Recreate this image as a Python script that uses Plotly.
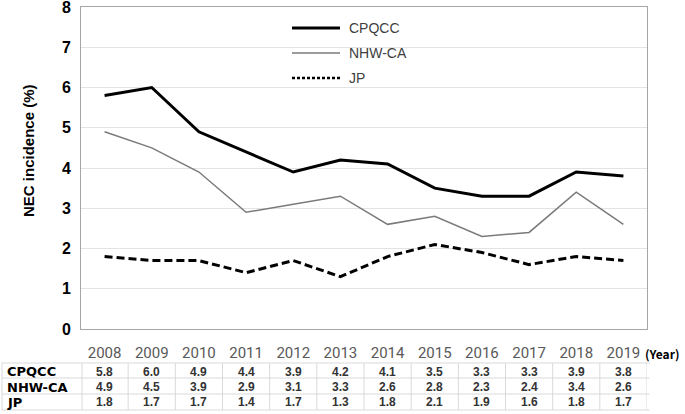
import plotly.graph_objects as go

years = ["2008", "2009", "2010", "2011", "2012", "2013", "2014", "2015", "2016", "2017", "2018", "2019"]
cpqcc = [5.8, 6.0, 4.9, 4.4, 3.9, 4.2, 4.1, 3.5, 3.3, 3.3, 3.9, 3.8]
nhw_ca = [4.9, 4.5, 3.9, 2.9, 3.1, 3.3, 2.6, 2.8, 2.3, 2.4, 3.4, 2.6]
jp = [1.8, 1.7, 1.7, 1.4, 1.7, 1.3, 1.8, 2.1, 1.9, 1.6, 1.8, 1.7]
series_names = ["CPQCC", "NHW-CA", "JP"]
y_ticks = [0, 1, 2, 3, 4, 5, 6, 7, 8]

W_PX, H_PX = 685, 414
L, R, T, B = 81, 647, 7, 329
PW, PH = R - L, B - T


def px2x(px):
    return (px - L) / PW


def py2y(py):
    return (B - py) / PH


series = [cpqcc, nhw_ca, jp]
styles = [
    dict(color="#000000", width=3, dash="solid"),
    dict(color="#7a7a7a", width=1.5, dash="solid"),
    dict(color="#000000", width=3, dash="8px,4px"),
]
legend_styles = [
    dict(color="#000000", width=3, dash="solid"),
    dict(color="#7a7a7a", width=1.5, dash="solid"),
    dict(color="#000000", width=2.5, dash="3px,2px"),
]

fig = go.Figure()
xs = list(range(len(years)))
for name, vals, st in zip(series_names, series, styles):
    fig.add_trace(go.Scatter(x=xs, y=vals, mode="lines", name=name,
                             line=st, showlegend=False, hoverinfo="skip"))

shapes = []
annotations = []

# manual legend
leg_y = [28, 53, 78]
for name, st, ly in zip(series_names, legend_styles, leg_y):
    shapes.append(dict(type="line", xref="paper", yref="paper",
                       x0=px2x(292), x1=px2x(340), y0=py2y(ly), y1=py2y(ly),
                       line=st))
    annotations.append(dict(text=name, xref="paper", yref="paper",
                            x=px2x(347), y=py2y(ly), xanchor="left", yanchor="middle",
                            showarrow=False,
                            font=dict(family="Liberation Sans, Arial", size=14, color="#404040")))

# y axis title
annotations.append(dict(text="NEC incidence (%)", xref="paper", yref="paper",
                        x=px2x(28), y=py2y(151), xanchor="center", yanchor="middle",
                        textangle=-90, showarrow=False,
                        font=dict(family="Liberation Sans, Arial", size=15, color="#000000", weight=700)))

# (Year) label
annotations.append(dict(text="(Year)", xref="paper", yref="paper",
                        x=px2x(643), y=py2y(353), xanchor="left", yanchor="middle",
                        showarrow=False,
                        font=dict(family="Noto Sans CJK JP", size=12, color="#000000", weight=700)))

# data table
row_y = [371.5, 387, 402.5]
h_lines = [363, 378, 394, 410]
for hy in h_lines:
    shapes.append(dict(type="line", xref="paper", yref="paper",
                       x0=px2x(2), x1=px2x(650), y0=py2y(hy), y1=py2y(hy),
                       line=dict(color="#d9d9d9", width=1)))
for vx in [2, 82]:
    shapes.append(dict(type="line", xref="paper", yref="paper",
                       x0=px2x(vx), x1=px2x(vx), y0=py2y(h_lines[0]), y1=py2y(h_lines[-1]),
                       line=dict(color="#d9d9d9", width=1)))
for k in range(1, len(years) + 1):
    shapes.append(dict(type="line", xref="x", yref="paper",
                       x0=k - 0.5, x1=k - 0.5, y0=py2y(h_lines[0]), y1=py2y(h_lines[-1]),
                       line=dict(color="#d9d9d9", width=1)))

for name, vals, ry in zip(series_names, series, row_y):
    annotations.append(dict(text=name, xref="paper", yref="paper",
                            x=px2x(5), y=py2y(ry), xanchor="left", yanchor="middle",
                            showarrow=False,
                            font=dict(family="DejaVu Sans", size=13, color="#000000", weight=700)))
    for i, v in enumerate(vals):
        annotations.append(dict(text=f"{v:.1f}", xref="x", yref="paper",
                                x=i, y=py2y(ry), xanchor="center", yanchor="middle",
                                showarrow=False,
                                font=dict(family="Liberation Sans, Arial", size=12, color="#333333", weight=700)))

fig.update_layout(
    width=W_PX, height=H_PX,
    margin=dict(l=L, r=W_PX - R, t=T, b=H_PX - B, pad=0),
    paper_bgcolor="#ffffff", plot_bgcolor="#ffffff",
    showlegend=False,
    shapes=shapes, annotations=annotations,
    xaxis=dict(range=[-0.5, len(years) - 0.5], tickmode="array", tickvals=xs, ticktext=years,
               showgrid=False, zeroline=False, showline=True, linecolor="#a6a6a6", linewidth=1,
               mirror=True, ticks="", ticklabelstandoff=10, automargin=False,
               tickfont=dict(family="Roboto, Liberation Sans", size=15, color="#595959")),
    yaxis=dict(range=[0, 8.0001], tickmode="array", tickvals=y_ticks,
               showgrid=True, gridcolor="#e3e3e3", gridwidth=1, zeroline=False,
               showline=True, linecolor="#a6a6a6", linewidth=1, mirror=True,
               ticks="", ticklabelstandoff=6, ticklabeloverflow="allow", automargin=False,
               tickfont=dict(family="Liberation Sans, Arial", size=16, color="#000000", weight=700)),
)

fig.write_html("out.html", config={"displayModeBar": False},
               post_script="document.body.style.margin='0';document.body.style.padding='0';document.body.style.overflow='hidden';")
